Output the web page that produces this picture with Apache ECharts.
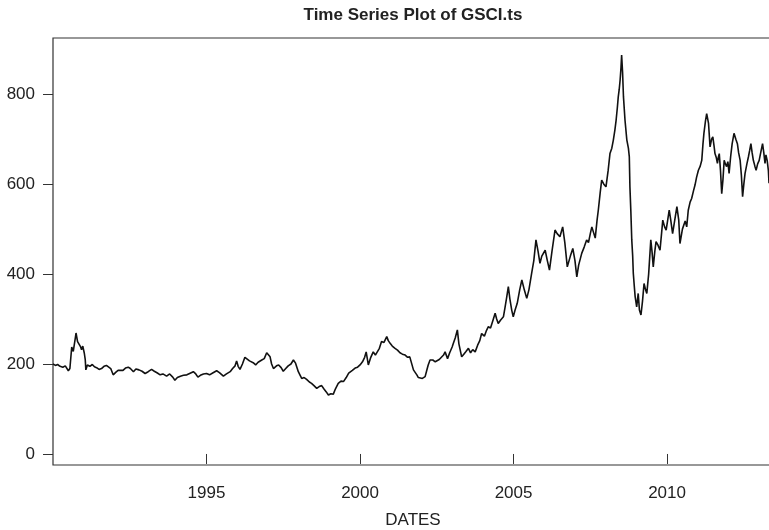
<!DOCTYPE html>
<html>
<head>
<meta charset="utf-8">
<script src="https://cdn.jsdelivr.net/npm/echarts@6/dist/echarts.min.js"></script>
<style>
  html, body { margin: 0; padding: 0; background: #fff; }
  #chart { width: 769px; height: 530px; }
</style>
</head>
<body>
<div id="chart"></div>
<script>
// decimal year of each reading
const years = [
  1990.00, 1990.08, 1990.15, 1990.23, 1990.32, 1990.40, 1990.50, 1990.55, 1990.61, 1990.66,
  1990.72, 1990.75, 1990.80, 1990.86, 1990.90, 1990.93, 1990.97, 1991.02, 1991.05, 1991.07,
  1991.12, 1991.20, 1991.28, 1991.35, 1991.42, 1991.50, 1991.58, 1991.66, 1991.74, 1991.80,
  1991.88, 1991.96, 1992.05, 1992.12, 1992.18, 1992.28, 1992.36, 1992.45, 1992.52, 1992.62,
  1992.70, 1992.80, 1992.90, 1993.00, 1993.10, 1993.21, 1993.30, 1993.40, 1993.49, 1993.58,
  1993.70, 1993.80, 1993.90, 1993.97, 1994.05, 1994.15, 1994.25, 1994.36, 1994.45, 1994.57,
  1994.65, 1994.72, 1994.80, 1994.90, 1995.00, 1995.10, 1995.20, 1995.33, 1995.42, 1995.55,
  1995.65, 1995.77, 1995.85, 1995.93, 1995.98, 1996.03, 1996.09, 1996.17, 1996.25, 1996.31,
  1996.40, 1996.46, 1996.52, 1996.60, 1996.68, 1996.74, 1996.80, 1996.88, 1996.96, 1997.02,
  1997.07, 1997.12, 1997.18, 1997.28, 1997.35, 1997.43, 1997.50, 1997.58, 1997.66, 1997.75,
  1997.83, 1997.90, 1997.99, 1998.05, 1998.10, 1998.18, 1998.26, 1998.35, 1998.42, 1998.50,
  1998.59, 1998.67, 1998.75, 1998.82, 1998.90, 1998.97, 1999.05, 1999.13, 1999.20, 1999.29,
  1999.38, 1999.46, 1999.55, 1999.63, 1999.67, 1999.75, 1999.84, 1999.92, 2000.00, 2000.08,
  2000.15, 2000.20, 2000.27, 2000.35, 2000.43, 2000.50, 2000.56, 2000.63, 2000.70, 2000.78,
  2000.87, 2000.92, 2000.98, 2001.05, 2001.14, 2001.22, 2001.30, 2001.38, 2001.47, 2001.55,
  2001.62, 2001.68, 2001.74, 2001.80, 2001.85, 2001.90, 2001.95, 2002.03, 2002.12, 2002.17,
  2002.22, 2002.28, 2002.37, 2002.45, 2002.50, 2002.58, 2002.65, 2002.72, 2002.77, 2002.85,
  2002.92, 2003.00, 2003.04, 2003.10, 2003.17, 2003.22, 2003.31, 2003.38, 2003.45, 2003.53,
  2003.60, 2003.67, 2003.75, 2003.83, 2003.90, 2003.96, 2004.05, 2004.12, 2004.18, 2004.25,
  2004.32, 2004.40, 2004.45, 2004.50, 2004.58, 2004.67, 2004.72, 2004.78, 2004.83, 2004.88,
  2004.94, 2004.99, 2005.05, 2005.12, 2005.20, 2005.27, 2005.35, 2005.43, 2005.50, 2005.59,
  2005.66, 2005.73, 2005.80, 2005.86, 2005.92, 2006.03, 2006.10, 2006.17, 2006.25, 2006.35,
  2006.42, 2006.51, 2006.60, 2006.67, 2006.75, 2006.85, 2006.93, 2007.00, 2007.06, 2007.12,
  2007.22, 2007.30, 2007.38, 2007.44, 2007.50, 2007.55, 2007.60, 2007.66, 2007.72, 2007.76,
  2007.82, 2007.87, 2007.94, 2008.01, 2008.08, 2008.14, 2008.20, 2008.25, 2008.30, 2008.34,
  2008.38, 2008.41, 2008.44, 2008.47, 2008.50, 2008.52, 2008.55, 2008.58, 2008.63, 2008.69,
  2008.74, 2008.77, 2008.79, 2008.82, 2008.85, 2008.88, 2008.90, 2008.93, 2008.96, 2009.01,
  2009.06, 2009.10, 2009.15, 2009.20, 2009.25, 2009.30, 2009.34, 2009.40, 2009.47, 2009.51,
  2009.55, 2009.60, 2009.64, 2009.70, 2009.77, 2009.82, 2009.86, 2009.92, 2009.97, 2010.02,
  2010.07, 2010.12, 2010.18, 2010.25, 2010.32, 2010.38, 2010.42, 2010.50, 2010.59, 2010.64,
  2010.69, 2010.75, 2010.80, 2010.86, 2010.91, 2010.96, 2011.02, 2011.08, 2011.13, 2011.17,
  2011.20, 2011.25, 2011.29, 2011.35, 2011.40, 2011.45, 2011.49, 2011.53, 2011.56, 2011.60,
  2011.64, 2011.67, 2011.70, 2011.74, 2011.78, 2011.82, 2011.86, 2011.90, 2011.94, 2011.98,
  2012.02, 2012.07, 2012.12, 2012.18, 2012.24, 2012.29, 2012.33, 2012.38, 2012.42, 2012.46,
  2012.50, 2012.54, 2012.60, 2012.65, 2012.69, 2012.73, 2012.77, 2012.81, 2012.86, 2012.90,
  2012.95, 2013.00, 2013.05, 2013.11, 2013.15, 2013.19, 2013.22, 2013.26, 2013.30, 2013.32
]

// GSCI index level at each date above
const gsci = [
  200, 197, 199, 195, 193, 196, 185, 190, 238, 228,
  255, 269, 250, 246, 238, 232, 240, 224, 210, 187,
  198, 195, 199, 194, 192, 188, 190, 195, 197, 200,
  190, 176, 182, 186, 188, 186, 191, 193, 190, 183,
  189, 187, 184, 179, 183, 188, 184, 180, 176, 178,
  173, 178, 171, 164, 170, 173, 175, 176, 179, 183,
  178, 171, 175, 178, 179, 176, 180, 185, 181, 173,
  178, 183, 190, 196, 207, 195, 188, 200, 215, 213,
  207, 209, 203, 198, 204, 203, 209, 212, 225, 222,
  216, 200, 190, 196, 198, 192, 184, 190, 196, 200,
  209, 202, 183, 175, 168, 170, 166, 160, 157, 152,
  146, 150, 152, 145, 138, 131, 134, 133, 145, 157,
  162, 161, 170, 180, 183, 186, 191, 193, 198, 205,
  215, 227, 198, 215, 227, 220, 216, 235, 250, 248,
  261, 252, 246, 240, 235, 231, 225, 222, 220, 215,
  216, 213, 187, 181, 176, 170, 166, 168, 172, 185,
  198, 209, 209, 205, 201, 210, 215, 220, 227, 212,
  225, 238, 246, 258, 276, 245, 216, 222, 228, 235,
  225, 232, 227, 242, 252, 268, 262, 275, 283, 280,
  295, 313, 300, 290, 298, 305, 325, 350, 372, 345,
  320, 305, 320, 335, 365, 387, 365, 346, 365, 402,
  430, 476, 450, 424, 440, 453, 430, 409, 450, 498,
  490, 483, 505, 470, 416, 440, 457, 430, 394, 420,
  446, 460, 476, 470, 490, 505, 509, 480, 520, 542,
  580, 609, 600, 594, 630, 668, 680, 698, 720, 742,
  770, 794, 810, 831, 860, 887, 850, 794, 742, 698,
  680, 661, 594, 540, 476, 440, 402, 375, 350, 327,
  357, 320, 309, 340, 379, 365, 357, 400, 476, 450,
  416, 450, 472, 465, 453, 490, 520, 505, 498, 520,
  542, 520, 490, 520, 550, 520, 468, 500, 518, 505,
  542, 560, 568, 585, 598, 615, 631, 640, 653, 690,
  713, 740, 757, 735, 683, 700, 705, 685, 668, 660,
  646, 660, 668, 630, 579, 610, 653, 645, 639, 650,
  624, 661, 690, 713, 700, 690, 670, 653, 620, 572,
  600, 624, 645, 661, 675, 690, 670, 653, 640, 631,
  645, 653, 670, 690, 670, 646, 665, 653, 630, 602
]

const yearTicks = [1995, 2000, 2005, 2010]
const valueTicks = [0, 200, 400, 600, 800]

const chart = echarts.init(document.getElementById('chart'))
const font = 'Liberation Sans, Arial, Helvetica, sans-serif'

chart.setOption({
  animation: false,
  backgroundColor: '#fff',
  title: {
    text: 'Time Series Plot of GSCI.ts',
    left: 408,
    top: 2,
    textAlign: 'center',
    textStyle: { fontFamily: font, fontSize: 17, fontWeight: 'bold', color: '#222' }
  },
  // plot box runs a little past the right edge of the picture, like the original
  grid: {
    left: 53,
    width: 720,
    top: 38,
    height: 427,
    outerBoundsMode: 'none',
    containLabel: false,
    show: true,
    borderColor: '#333',
    borderWidth: 1.2,
    backgroundColor: 'transparent'
  },
  xAxis: {
    type: 'value',
    min: 1990.0,
    max: 2013.45,
    name: 'DATES',
    nameLocation: 'middle',
    nameGap: 47,
    nameTextStyle: { fontFamily: font, fontSize: 17, color: '#222' },
    axisLine: { show: false },
    splitLine: { show: false },
    axisTick: {
      show: true,
      length: 10,
      customValues: yearTicks,
      lineStyle: { color: '#333', width: 1 }
    },
    axisLabel: {
      customValues: yearTicks,
      formatter: (v) => String(v),
      margin: 20,
      fontFamily: font,
      fontSize: 17,
      color: '#222'
    }
  },
  yAxis: {
    type: 'value',
    min: -24.5,
    max: 925,
    axisLine: { show: false },
    splitLine: { show: false },
    axisTick: {
      show: true,
      length: 10,
      customValues: valueTicks,
      lineStyle: { color: '#333', width: 1 }
    },
    axisLabel: {
      customValues: valueTicks,
      formatter: (v) => String(v),
      margin: 18,
      fontFamily: font,
      fontSize: 17,
      color: '#222'
    }
  },
  series: [
    {
      type: 'line',
      data: years.map((t, i) => [t, gsci[i]]),
      showSymbol: false,
      lineStyle: { color: '#111', width: 1.6 },
      clip: true
    }
  ]
})
</script>
</body>
</html>
